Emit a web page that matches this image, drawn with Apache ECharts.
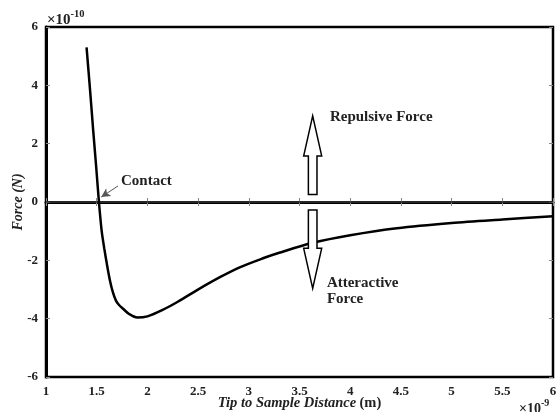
<!DOCTYPE html>
<html><head><meta charset="utf-8">
<script src="https://cdn.jsdelivr.net/npm/echarts@6/dist/echarts.min.js"></script>
<style>html,body{margin:0;padding:0;background:#fff}#c{width:558px;height:412px}</style>
</head><body><div id="c"></div>
<script>
// distance in units of 1e-9 m, force in units of 1e-10 N
const distance = [1.40, 1.434, 1.466, 1.495, 1.522, 1.549, 1.575, 1.60, 1.63, 1.66, 1.69, 1.72, 1.76, 1.82, 1.90, 2.00, 2.15, 2.30, 2.49, 2.72, 2.91, 3.14, 3.30, 3.63, 4.00, 4.46, 5.00, 5.50, 6.00];
const force    = [5.30, 3.86, 2.43, 1.20, 0.0, -0.99, -1.60, -2.12, -2.68, -3.10, -3.38, -3.53, -3.66, -3.84, -3.96, -3.92, -3.70, -3.42, -3.02, -2.57, -2.24, -1.93, -1.74, -1.40, -1.14, -0.90, -0.72, -0.60, -0.49];
const xTicks = [1, 1.5, 2, 2.5, 3, 3.5, 4, 4.5, 5, 5.5, 6];
const yTicks = [-6, -4, -2, 0, 2, 4, 6];
// hollow arrows: [x, tail y, tip y]
const forceArrows = [[3.63, 0.26, 2.95], [3.63, -0.27, -2.96]];
// annotation texts: [x, y, text]
const notes = [[3.80, 2.91, 'Repulsive Force'], [3.77, -2.77, 'Atteractive'], [3.77, -3.32, 'Force'], [1.74, 0.72, 'Contact']];
const contactArrow = [[1.71, 0.55], [1.545, 0.17]];

const serif = 'Liberation Serif';
const chart = echarts.init(document.getElementById('c'), null, {renderer: 'canvas'});
const axisLabel = {fontFamily: serif, fontWeight: 'bold', fontSize: 13, color: '#222'};
chart.setOption({
  animation: false,
  backgroundColor: '#fff',
  grid: {left: 46, right: 5, top: 27, bottom: 35, show: true, borderColor: '#000', borderWidth: 2.5,
         containLabel: false, outerBoundsMode: 'none'},
  xAxis: [{
    type: 'value', min: xTicks[0], max: xTicks[xTicks.length - 1], interval: 0.5,
    axisLine: {show: true, lineStyle: {color: '#000', width: 3}},
    axisTick: {show: true, inside: true, length: 4, lineStyle: {color: '#888'}},
    splitLine: {show: false},
    axisLabel: Object.assign({margin: 8}, axisLabel),
    name: '{i|Tip to Sample Distance} {n|(m)}', nameLocation: 'middle', nameGap: 19, nameMoveOverlap: false,
    nameTextStyle: {rich: {
      i: {fontFamily: serif, fontWeight: 'bold', fontStyle: 'italic', fontSize: 14.5, color: '#222'},
      n: {fontFamily: serif, fontWeight: 'bold', fontSize: 14.5, color: '#222'}}}
  }, {
    type: 'value', position: 'top', min: 1, max: 6, interval: 0.5,
    axisLine: {show: false}, axisLabel: {show: false}, splitLine: {show: false},
    axisTick: {show: true, inside: true, length: 4, lineStyle: {color: '#888'}}
  }],
  yAxis: [{
    type: 'value', min: yTicks[0], max: yTicks[yTicks.length - 1], interval: 2,
    axisLine: {show: true, lineStyle: {color: '#000', width: 3}},
    axisTick: {show: true, inside: true, length: 4, lineStyle: {color: '#888'}},
    splitLine: {show: false},
    axisLabel: Object.assign({margin: 8}, axisLabel),
    name: '{i|Force (N)}', nameLocation: 'middle', nameGap: 21, nameRotate: 90, nameMoveOverlap: false,
    nameTextStyle: {rich: {i: {fontFamily: serif, fontWeight: 'bold', fontStyle: 'italic', fontSize: 14, color: '#222'}}}
  }, {
    type: 'value', position: 'right', min: -6, max: 6, interval: 2,
    axisLine: {show: false}, axisLabel: {show: false}, splitLine: {show: false},
    axisTick: {show: true, inside: true, length: 4, lineStyle: {color: '#888'}}
  }],
  series: [{
    type: 'line', data: distance.map((d, i) => [d, force[i]]),
    smooth: 0.3, showSymbol: false, symbol: 'none',
    lineStyle: {color: '#000', width: 2.5}, z: 5,
    markLine: {
      silent: true, symbol: 'none', animation: false, label: {show: false},
      lineStyle: {color: '#333', width: 1.5, type: 'solid'},
      data: [{yAxis: 0}]
    }
  }, {
    type: 'line', data: [], markLine: {
      silent: true, animation: false, symbol: ['none', 'arrow'], symbolSize: [7, 9],
      label: {show: false}, lineStyle: {color: '#555', width: 1, type: 'solid'},
      data: [[{coord: contactArrow[0]}, {coord: contactArrow[1]}]]
    }
  }, {
    type: 'custom', data: forceArrows, z: 6,
    renderItem: function (params, api) {
      const x = api.value(0);
      const tail = api.coord([x, api.value(1)]);
      const tip = api.coord([x, api.value(2)]);
      const dir = tip[1] < tail[1] ? -1 : 1;
      const headLen = 40, hw = 9, sw = 4.3;
      const base = tip[1] - dir * headLen;
      const cx = tip[0];
      return {type: 'polygon', shape: {points: [
        [cx - sw, tail[1]], [cx - sw, base], [cx - hw, base], [cx, tip[1]],
        [cx + hw, base], [cx + sw, base], [cx + sw, tail[1]]]},
        style: {fill: '#fff', stroke: '#000', lineWidth: 1.5}};
    }
  }, {
    type: 'custom', data: notes, z: 7,
    renderItem: function (params, api) {
      const p = api.coord([api.value(0), api.value(1)]);
      return {type: 'text', x: p[0], y: p[1], style: {
        text: notes[params.dataIndex][2], fontFamily: serif, fontWeight: 'bold', fontSize: 15,
        fill: '#222', textAlign: 'left', textVerticalAlign: 'middle'}};
    }
  }],
  graphic: [
    {type: 'text', left: 47, top: 9, style: {
      text: '{a|×10}{s|-10}', rich: {
        a: {fontFamily: serif, fontWeight: 'bold', fontSize: 15, fill: '#222', verticalAlign: 'bottom'},
        s: {fontFamily: serif, fontWeight: 'bold', fontSize: 10.5, fill: '#222', padding: [0, 0, 8, 0], verticalAlign: 'bottom'}}}},
    {type: 'text', left: 519, top: 398, style: {
      text: '{a|×10}{s|-9}', rich: {
        a: {fontFamily: serif, fontWeight: 'bold', fontSize: 14, fill: '#222', verticalAlign: 'bottom'},
        s: {fontFamily: serif, fontWeight: 'bold', fontSize: 10, fill: '#222', padding: [0, 0, 8, 0], verticalAlign: 'bottom'}}}}
  ]
});
</script></body></html>
